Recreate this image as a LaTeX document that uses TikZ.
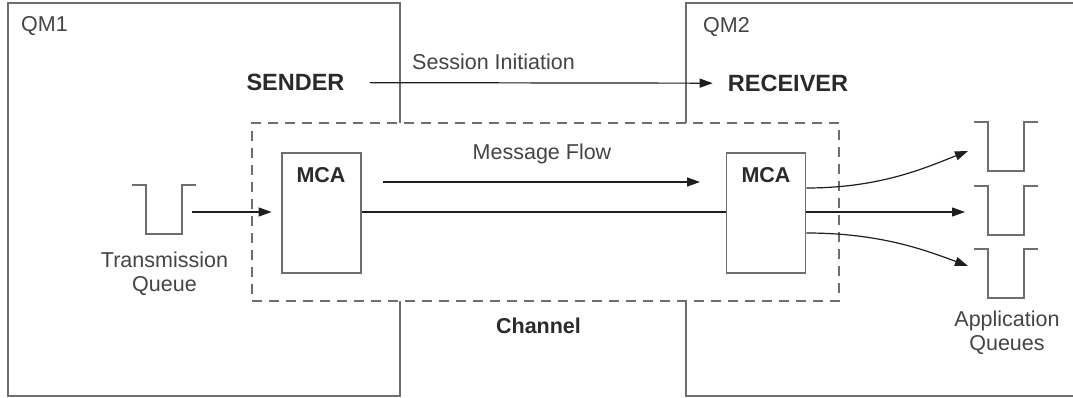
\documentclass[tikz,border=0pt]{standalone}
\usepackage{fontspec}
\setmainfont{Liberation Sans}
\usetikzlibrary{arrows.meta}

\definecolor{boxgray}{HTML}{6E6E6E}
\definecolor{arrowink}{HTML}{1E1E1E}
\definecolor{textgray}{HTML}{444444}
\definecolor{boldink}{HTML}{2A2A2A}

\begin{document}
\begin{tikzpicture}[x=1pt,y=-1pt,
  frame/.style={draw=boxgray, line width=1.7pt},
  chanbox/.style={draw=boxgray, line width=1.5pt, dash pattern=on 10pt off 7pt},
  mcabox/.style={draw=boxgray, line width=1.8pt, minimum width=79pt, minimum height=120pt, inner sep=0pt},
  qline/.style={draw=boxgray, line width=1.8pt},
  arr/.style={draw=arrowink, line width=1.2pt, -{Triangle[length=13pt,width=9pt]}},
  plain/.style={draw=arrowink, line width=1.2pt},
  lbl/.style={text=textgray, inner sep=0pt, font=\fontsize{21.5}{24}\selectfont},
  bigbold/.style={text=boldink, inner sep=0pt, font=\fontsize{23.5}{26}\selectfont\bfseries},
  bold/.style={text=boldink, inner sep=0pt, font=\fontsize{21.5}{24}\selectfont\bfseries},
  queue/.pic={\draw[qline] (-32,0) -- (-18,0) -- (-18,49) -- (18,49) -- (18,0) -- (32,0);}
]
\useasboundingbox (0,0) rectangle (1073,398);

% queue managers (their inner edges stop at the channel)
\draw[frame] (400,123) -- (400,3) -- (8,3) -- (8,396) -- (400,396) -- (400,301);
\draw[frame] (1080,3) -- (686,3) -- (686,123);
\draw[frame] (686,301) -- (686,396) -- (1080,396);
\node[lbl, anchor=base west] (qm1) at (21,32) {QM1};
\node[lbl, anchor=base west] (qm2) at (703,32.5) {QM2};

% channel
\node[chanbox, minimum width=587pt, minimum height=178pt, inner sep=0pt] (channel) at (545.5,212) {};
\node[bold, anchor=base] (chanlbl) at (538.5,333) {Channel};

% sender / receiver and session initiation
\node[bigbold, anchor=base] (sender) at (295.5,90.7) {SENDER};
\node[bigbold, anchor=base] (receiver) at (788,91.3) {RECEIVER};
\draw[arr, shorten <=25pt, shorten >=15pt] (sender.east) -- (receiver.west);
\node[lbl, anchor=base] (sesslbl) at (493.5,70) {Session Initiation};

% message channel agents
\node[mcabox] (mcaL) at (321.5,213) {};
\node[mcabox] (mcaR) at (766,213) {};
\node[bold, anchor=base] (mcaLlbl) at (321,183) {MCA};
\node[bold, anchor=base] (mcaRlbl) at (766,182.5) {MCA};
\draw[plain] (mcaL.east |- 0,212) -- (mcaR.west |- 0,212);

% message flow
\coordinate (mf1) at (383,182);
\coordinate (mf2) at (700,182);
\draw[arr] (mf1) -- (mf2);
\node[lbl, anchor=base] (mflbl) at (542,160) {Message Flow};

% transmission queue
\pic at (164,185) {queue};
\coordinate (tqout) at (192,212);
\draw[arr, shorten >=9.5pt] (tqout) -- (mcaL.west |- 0,212);
\node[lbl, anchor=base, align=center] (tqlbl) at (164.5,291) {Transmission\\Queue};

% application queues
\pic at (1006,122) {queue};
\pic at (1006,186) {queue};
\pic at (1006,249) {queue};
\coordinate (aq1) at (968,151);
\coordinate (aq2) at (965,212);
\coordinate (aq3) at (968,266);
\draw[arr] (mcaR.east |- 0,188) .. controls (880,188) and (925,168) .. (aq1);
\draw[arr] (mcaR.east |- 0,212) -- (aq2);
\draw[arr] (mcaR.east |- 0,233) .. controls (880,233) and (925,250) .. (aq3);
\node[lbl, anchor=base, align=center] (aqlbl) at (1007,350) {Application\\Queues};
\end{tikzpicture}
\end{document}
